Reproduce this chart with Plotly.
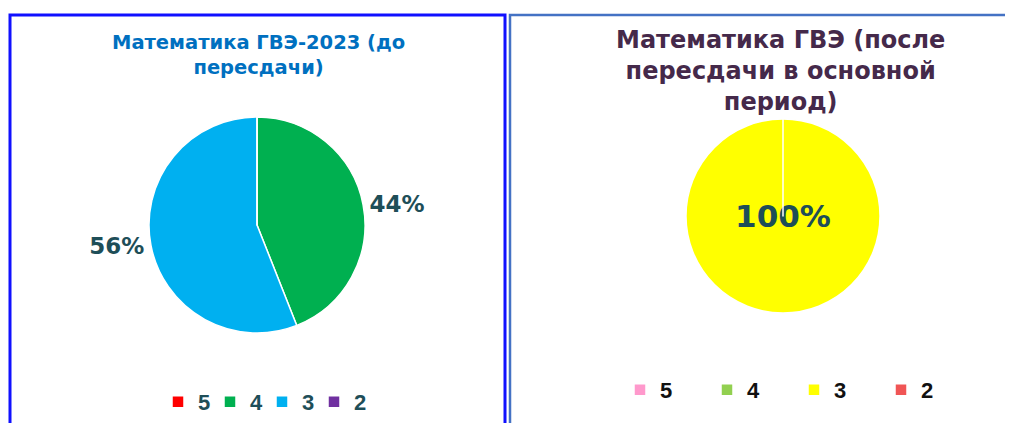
import plotly.graph_objects as go

# ---- data ----
grades = ["5", "4", "3", "2"]
before_values = [0, 44, 56, 0]
after_values = [0, 0, 100, 0]
before_colors = ["#FF0000", "#00B050", "#00B0F0", "#7030A0"]
after_colors = ["#FF99CC", "#92D050", "#FFFF00", "#F05555"]
title_before = "Математика ГВЭ-2023 (до<br>пересдачи)"
title_after = "Математика ГВЭ (после<br>пересдачи в основной<br>период)"

W, H = 1013, 423
OFF = 8  # page body margin
LABEL_COLOR = "#1E4E58"


def px(x):
    return (x - OFF) / W


def py(y):
    return 1 - (y - OFF) / H


def pct_text(vals):
    return [f"{v}%" if v else "" for v in vals]


fig = go.Figure()

fig.add_trace(go.Pie(
    labels=grades, values=before_values, sort=False, direction="clockwise",
    rotation=0, marker=dict(colors=before_colors, line=dict(color="white", width=1.5)),
    text=pct_text(before_values), textinfo="text", textposition="outside",
    textfont=dict(family="DejaVu Sans", size=23, color=LABEL_COLOR, weight="bold"),
    domain=dict(x=[px(127), px(387)], y=[py(333), py(117)]),
    legend="legend", legendgroup="before", hoverinfo="skip", showlegend=True,
))

fig.add_trace(go.Pie(
    labels=grades, values=after_values, sort=False, direction="clockwise",
    rotation=0, marker=dict(colors=after_colors, line=dict(color="white", width=1.5)),
    text=pct_text(after_values), textinfo="text", textposition="inside",
    insidetextorientation="horizontal",
    textfont=dict(family="DejaVu Sans", size=31, color=LABEL_COLOR, weight="bold"),
    domain=dict(x=[px(673), px(893)], y=[py(313), py(119)]),
    legend="legend2", legendgroup="after", hoverinfo="skip", showlegend=True,
))

# panel frames
fig.add_shape(type="rect", xref="paper", yref="paper",
              x0=px(10), x1=px(505), y0=-0.05, y1=py(15),
              line=dict(color="#1010FF", width=3))
fig.add_shape(type="rect", xref="paper", yref="paper",
              x0=px(510), x1=1.05, y0=-0.05, y1=py(15),
              line=dict(color="#4472C4", width=2.5))

fig.add_annotation(x=px(258), y=py(55), xref="paper", yref="paper",
                   text=f"<b>{title_before}</b>", showarrow=False,
                   font=dict(family="DejaVu Sans", size=19.5, color="#0070C0"),
                   align="center", xanchor="center", yanchor="middle")
fig.add_annotation(x=px(780), y=py(71), xref="paper", yref="paper",
                   text=f"<b>{title_after}</b>", showarrow=False,
                   font=dict(family="DejaVu Sans", size=24, color="#45294A"),
                   align="center", xanchor="center", yanchor="middle")

fig.update_layout(
    width=W, height=H, margin=dict(l=0, r=0, t=0, b=0, autoexpand=False),
    paper_bgcolor="white", plot_bgcolor="white",
    legend=dict(orientation="h", traceorder="normal", x=px(262), xanchor="center",
                y=py(402), yanchor="middle", entrywidth=7, entrywidthmode="pixels",
                font=dict(family="Arial", size=22, color=LABEL_COLOR, weight="bold"),
                bgcolor="rgba(0,0,0,0)"),
    legend2=dict(orientation="h", traceorder="normal", x=px(794), xanchor="center",
                 y=py(390), yanchor="middle", entrywidth=42, entrywidthmode="pixels",
                 font=dict(family="Arial", size=22, color="#111111", weight="bold"),
                 bgcolor="rgba(0,0,0,0)"),
)

fig.write_html("out.html")
